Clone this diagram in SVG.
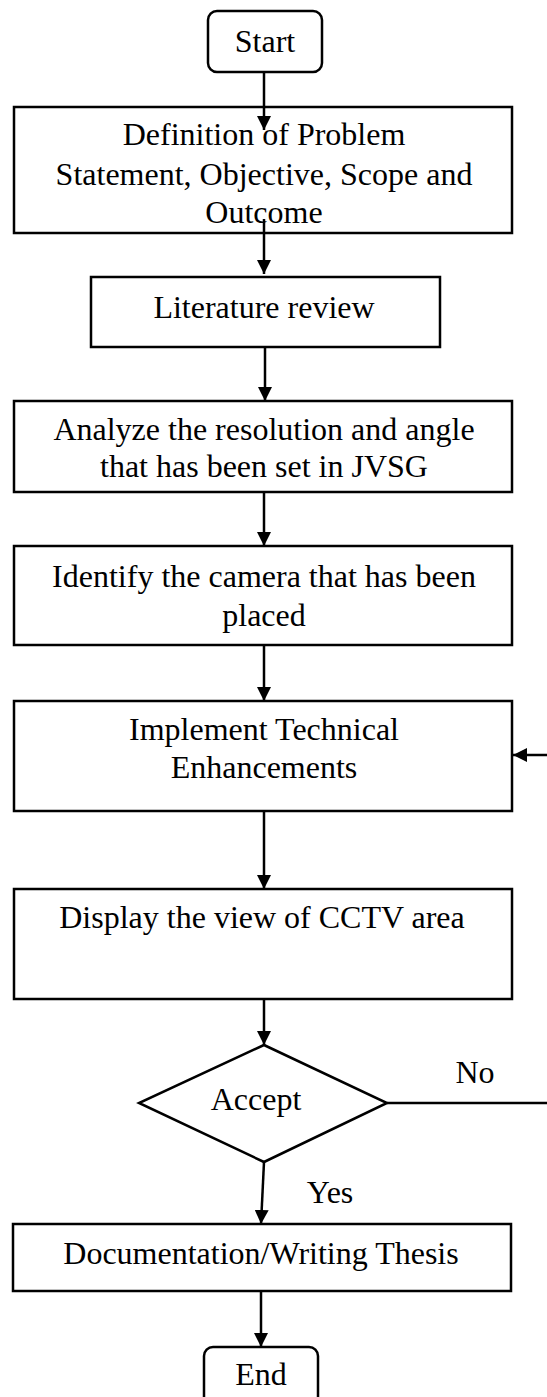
<svg xmlns="http://www.w3.org/2000/svg" width="547" height="1397" viewBox="0 0 547 1397">
  <style>
    .box { fill: #ffffff; stroke: #000000; stroke-width: 2.5; }
    .wire { fill: none; stroke: #000000; stroke-width: 2.5; }
    .lbl { font-family: "Liberation Serif", "Times New Roman", serif; font-size: 32px; fill: #000000; text-anchor: middle; }
  </style>
  <defs>
    <marker id="head" markerWidth="14" markerHeight="14" refX="14" refY="7" orient="auto" markerUnits="userSpaceOnUse">
      <path d="M0,0 L14,7 L0,14 Z" fill="#000000"/>
    </marker>
  </defs>

  <rect width="547" height="1397" fill="#ffffff"/>

  <!-- process steps -->
  <g id="start">
    <rect class="box" x="208" y="11" width="114" height="61" rx="9"/>
    <text class="lbl" x="265" y="52">Start</text>
  </g>

  <g id="definition">
    <rect class="box" x="14" y="107" width="498" height="126"/>
    <text class="lbl" x="264" y="145">Definition of Problem</text>
    <text class="lbl" x="264" y="185">Statement, Objective, Scope and</text>
    <text class="lbl" x="264" y="223">Outcome</text>
  </g>

  <g id="literature">
    <rect class="box" x="91" y="277" width="349" height="70"/>
    <text class="lbl" x="264" y="318">Literature review</text>
  </g>

  <g id="analyze">
    <rect class="box" x="14" y="401" width="498" height="91"/>
    <text class="lbl" x="264" y="440">Analyze the resolution and angle</text>
    <text class="lbl" x="264" y="477">that has been set in JVSG</text>
  </g>

  <g id="identify">
    <rect class="box" x="14" y="546" width="498" height="99"/>
    <text class="lbl" x="264" y="587">Identify the camera that has been</text>
    <text class="lbl" x="264" y="626">placed</text>
  </g>

  <g id="implement">
    <rect class="box" x="14" y="701" width="498" height="110"/>
    <text class="lbl" x="264" y="740">Implement Technical</text>
    <text class="lbl" x="264" y="778">Enhancements</text>
  </g>

  <g id="display">
    <rect class="box" x="14" y="889" width="498" height="110"/>
    <text class="lbl" x="262" y="928">Display the view of CCTV area</text>
  </g>

  <g id="accept">
    <polygon class="box" points="264,1045 387,1103 264,1162 139,1103"/>
    <text class="lbl" x="256" y="1110">Accept</text>
  </g>

  <g id="documentation">
    <rect class="box" x="13" y="1224" width="498" height="67"/>
    <text class="lbl" x="261" y="1264">Documentation/Writing Thesis</text>
  </g>

  <g id="end">
    <rect class="box" x="204" y="1347" width="114" height="61" rx="9"/>
    <text class="lbl" x="261" y="1385">End</text>
  </g>

  <!-- connectors -->
  <g id="connectors">
    <line class="wire" x1="264" y1="72" x2="264" y2="130" marker-end="url(#head)"/>
    <line class="wire" x1="264" y1="219" x2="264" y2="274" marker-end="url(#head)"/>
    <line class="wire" x1="265" y1="347" x2="265" y2="401" marker-end="url(#head)"/>
    <line class="wire" x1="264" y1="492" x2="264" y2="546" marker-end="url(#head)"/>
    <line class="wire" x1="264" y1="645" x2="264" y2="701" marker-end="url(#head)"/>
    <line class="wire" x1="264" y1="811" x2="264" y2="889" marker-end="url(#head)"/>
    <line class="wire" x1="264" y1="999" x2="264" y2="1045" marker-end="url(#head)"/>
    <line class="wire" x1="264" y1="1162" x2="261" y2="1224" marker-end="url(#head)"/>
    <line class="wire" x1="261" y1="1291" x2="261" y2="1347" marker-end="url(#head)"/>
    <line class="wire" x1="387" y1="1103" x2="547" y2="1103"/>
    <line class="wire" x1="547" y1="755" x2="513" y2="755" marker-end="url(#head)"/>
    <text class="lbl" x="475" y="1083">No</text>
    <text class="lbl" x="330" y="1203">Yes</text>
  </g>
</svg>
